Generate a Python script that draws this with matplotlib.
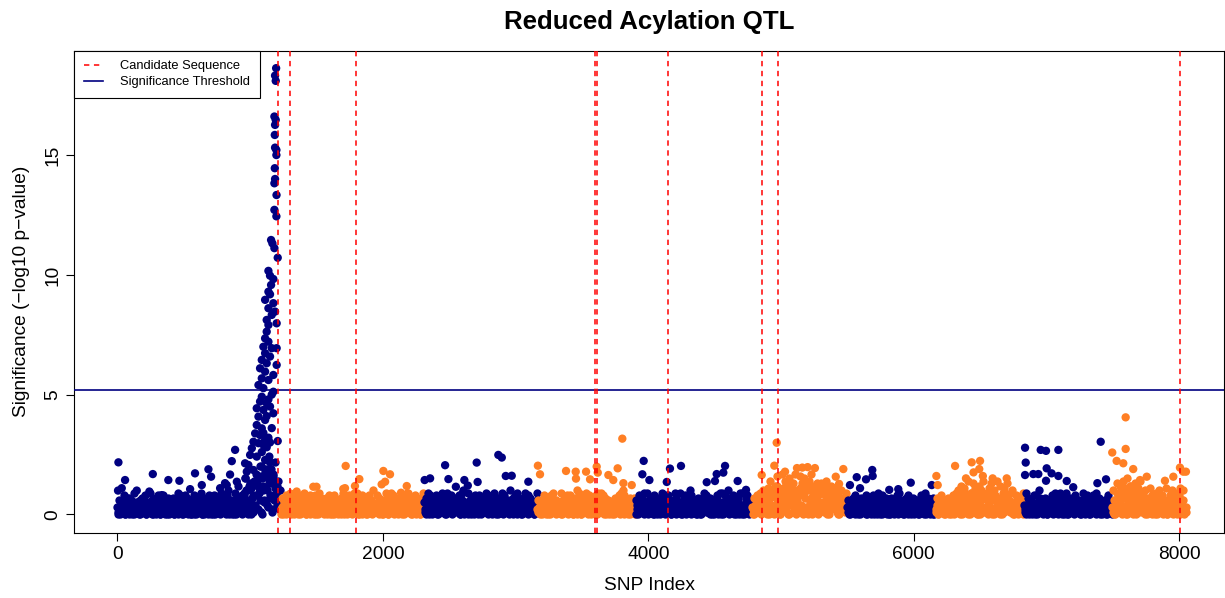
# Reduced acylation QTL - manhattan style plot of SNP significance
# cloud strings: one char per every 8th SNP, base-36 digit = -log10 p in tenths
# cloud_b holds the SNPs in between (offset by 4)

import numpy as np
import matplotlib
matplotlib.use("Agg")
import matplotlib.pyplot as plt
from matplotlib.lines import Line2D

plt.rcParams['font.family'] = ['Liberation Sans', 'DejaVu Sans']

# chromosome start index (SNP index), last SNP ~8050
chrom_start = [0, 1230, 2310, 3164, 3905, 4783, 5499, 6165, 6830, 7495]
snp_step = 8

cloud = [
    # chr 1
    "3061528047" "1736029415" "0627318054" "2916047283" "0538162074"
    "4170625938" "1604827350" "6283051749" "0471638205" "5802714693"
    "3718a04625" "0947c15839" "f2a06db48e" "3hc9k1fa6i" "b4ne8j2gm7" "c5a2",
    # chr 2
    "2705183649" "0471628305" "6193047582" "1580369274" "3027148605"
    "8416052739" "0653827149" "5290741836" "7038165a24" "1847306259"
    "6025918473" "3748052619" "9160473825" "40719",
    # chr 3
    "5172908364" "2830615947" "0694281735" "7318059a42" "1956037482"
    "4082736195" "8361049257" "0729584316" "3a15078294" "6047391582" "7315029",
    # chr 4
    "2615038274" "0738491562" "5190627483" "3842075a19" "6074319258"
    "1526084937" "9381706245" "0467253819" "4a85102736" "170",
    # chr 5
    "6208371594" "3947160825" "0715392648" "8260415973" "1593078246"
    "4a81625037" "2037948165" "7164052839" "0952816a47" "5386027194" "9204781536",
    # chr 6
    "3071852964" "a2816b0e49" "1c7g3a05h8" "2e6b0f49d1" "h5a28g3c0f"
    "7b1e4h09c6" "3d8a2c5b1e" "07a4c93b26" "1804a72596",
    # chr 7
    "3605172846" "0417263580" "2751806439" "6038147250" "1742053869"
    "5260471835" "0375162048" "4619027351" "270",
    # chr 8
    "2705183640" "6172048359" "3a81c05b72" "e4096d1b38" "0c5a2e7194"
    "b3d06a82e1" "5c09b47d26" "19a4058372" "619",
    # chr 9
    "4192706538" "0825a71364" "7306248159" "2581940637" "9047136285"
    "1362059748" "6015283794" "3740516208" "514",
    # chr 10
    "3a06d19c42" "e7b0f58c2a" "0d6b39e148" "5a1072b846" "0937a15824"
    "6b0382a719" "4058b26a31",
]

cloud_b = [
    "1302415023" "0214303521" "4031250142" "2503140326" "0142035104"
    "3250142031" "0413520240" "1305243150" "2041305314" "0352140263"
    "1504231042" "3061527048" "2a5c3071d4" "8e2b6g0c5j" "a3f7d1h6b9" "4e2a",
    "0314205132" "4102530413" "1350241053" "2041305142" "5130420315"
    "0243150423" "1502341025" "3140520134" "0425130243" "1503240152"
    "4021350314" "0352140235" "1240531042" "30512",
    "2041536024" "1305241536" "0423150624" "3150462031" "5024136052"
    "1430526143" "0251436025" "4162035142" "0537241063" "2504136025" "1430526",
    "1304251403" "5021436015" "2403152604" "1350426031" "4052136024"
    "0315240613" "2504136052" "1403526041" "3052146023" "514",
    "0413526041" "3052146035" "1402536024" "5130426051" "2403516043"
    "1502436025" "4031526140" "2053146023" "1504236051" "3402516043" "0215340625",
    "2043152604" "1350827193" "0a4c2806b3" "5d1907c4a2" "8062b4d19e"
    "3a0c5728b1" "6094d2a38c" "1507394a26" "041625314",
    "1402536041" "3052146025" "1403526041" "2503146023" "0415236051"
    "3204516032" "1503426014" "2305146032" "041",
    "1403526041" "3502146025" "1705382946" "0829371605" "4092718360"
    "2918073546" "0728193645" "1503426013" "250",
    "2041536024" "1305246031" "4052136024" "1503426053" "0241536014"
    "3205146032" "1403526041" "2053146023" "140",
    "1604938270" "8a3059c172" "4906b28371" "0524136042" "1503426035"
    "2041536024" "3150426013",
]

# points standing above the cloud
hit_idx = [
    8, 58, 267, 384, 467, 585, 686, 706, 887, 862, 962, 849, 900, 1145, 1150, 1208,
    5, 33, 146, 241, 334, 548, 636, 774, 824, 811, 975, 966, 987, 1000, 1013, 1025,
    1038, 1050, 1063, 1075, 1088, 1100, 1113, 1088, 1138, 1175, 1025,
    1138, 1163, 1125, 1150, 1163, 1138, 1100, 1088, 1125, 1150, 1113,
    1050, 1063, 1050, 1075, 1088, 1100, 1113, 1125, 1175, 1063, 1100, 1175, 1088,
    1138, 1075, 1113, 1175, 1088, 1125, 1200, 1113, 1150, 1100, 1163, 1200, 1113,
    1138, 1125, 1125, 1200, 1138, 1163, 1188, 1138, 1113, 1175, 1138, 1150, 1158,
    1175, 1150, 1138, 1208, 1183, 1168, 1158, 1198, 1183, 1199, 1183, 1188, 1186,
    1198, 1198, 1188, 1186, 1188, 1193, 1183, 1193, 1188, 1196,
    1720, 2004, 2054, 2017, 1823, 2180, 1702, 2137, 1476, 1500, 1790, 1991, 1351, 1715,
    2469, 2707, 2870, 2896, 2494, 2614, 2356, 2714, 2971, 2926, 3096, 2315, 2640, 2550,
    3168, 3184, 3804, 3380, 3453, 3531, 3611, 3619, 3769, 3699, 3736, 3812, 3561, 3455, 3875,
    3965, 3955, 4008, 4163, 4246, 4139, 4578, 4565, 4515, 4502, 4673, 4736, 4440,
    4967, 4949, 4854, 5030, 5120, 5160, 5200, 5255, 5469, 5412, 5437, 5316,
    5687, 5690, 5570, 5640, 5519, 5595, 5977, 6135, 5815, 5883, 6072,
    6170, 6180, 6311, 6436, 6499, 6493, 6594, 6700, 6393, 6450, 6520,
    6838, 6956, 6996, 7089, 7408, 6843, 6838, 7001, 6900, 6938, 7038, 7089, 6996,
    7152, 7201, 7448, 7383,
    7596, 7596, 7495, 7528, 7578, 7653, 8050, 8005, 8030, 7892, 7955, 7755, 7704,
]
hit_val = [
    2.17, 1.43, 1.68, 1.43, 1.40, 1.71, 1.88, 1.57, 2.69, 2.22, 2.13, 1.66, 1.36, 2.41, 2.16, 3.06,
    0.99, 1.09, 0.99, 0.95, 0.80, 1.05, 1.22, 1.09, 1.22, 1.30, 1.78, 1.50, 2.06, 2.48, 2.76, 3.03,
    3.38, 2.41, 2.97, 3.31, 3.59, 2.90, 2.27, 1.99, 1.64, 1.36, 1.85,
    3.20, 3.60, 4.10, 4.50, 5.00, 4.80, 3.40, 2.60, 2.80, 3.00, 3.10,
    3.73, 4.08, 4.43, 4.71, 4.91, 4.36, 3.94, 4.64, 4.22, 5.40, 5.27, 5.12, 5.68,
    5.61, 6.10, 5.96, 5.82, 6.45, 6.31, 6.24, 6.73, 6.59, 7.00, 6.94, 6.94, 7.35,
    7.21, 7.63, 8.12, 7.98, 7.91, 8.33, 8.47, 8.61, 8.96, 8.82, 9.30, 9.19, 9.58,
    9.83, 9.97, 10.17, 10.72, 11.12, 11.32, 11.46, 12.45, 12.72, 13.34, 13.83, 14.01, 14.46,
    15.01, 15.22, 15.32, 15.85, 16.27, 16.48, 16.62, 18.11, 18.33, 18.64,
    2.02, 1.81, 1.67, 1.36, 1.47, 1.18, 1.06, 0.90, 1.15, 1.15, 1.18, 1.25, 0.95, 1.09,
    2.05, 2.16, 2.48, 2.37, 1.47, 1.43, 1.50, 1.35, 1.61, 1.60, 1.36, 1.43, 1.20, 1.15,
    2.03, 1.67, 3.16, 1.81, 1.78, 1.78, 1.99, 1.74, 1.92, 1.64, 1.43, 1.30, 1.46, 1.49, 1.22,
    2.23, 1.67, 1.43, 1.91, 2.02, 1.35, 2.02, 1.74, 1.68, 1.39, 1.39, 1.02, 1.34,
    2.99, 2.03, 1.64, 1.78, 1.93, 1.95, 1.97, 1.93, 1.89, 1.57, 1.27, 1.10,
    1.85, 1.60, 1.55, 1.46, 1.22, 1.09, 1.32, 1.22, 1.02, 1.05, 0.74,
    1.60, 1.22, 2.02, 2.17, 2.23, 1.89, 1.50, 1.50, 1.50, 1.75, 1.60,
    2.78, 2.69, 2.65, 2.69, 3.03, 2.16, 1.64, 1.92, 1.68, 1.68, 1.71, 1.60, 1.40,
    1.39, 1.13, 1.46, 1.30,
    4.05, 2.73, 2.58, 2.23, 2.13, 1.89, 1.78, 1.95, 1.78, 1.40, 1.57, 1.57, 1.43,
]

candidate_idx = [1208, 1303, 1798, 3596, 3616, 4151, 4854, 4977, 8005]
threshold = 5.2

chrom_colors = ["#000080", "#FF7F24"]

fig = plt.figure(figsize=(12.25, 5.98), dpi=100)
ax = fig.add_axes([0.0607, 0.1092, 0.9385, 0.806])

# draw chromosome by chromosome so later ones sit on top, as in the original
for k in range(len(chrom_start)):
    va = np.array([int(ch, 36) for ch in cloud[k]]) / 10
    vb = np.array([int(ch, 36) for ch in cloud_b[k]]) / 10
    xa = chrom_start[k] + snp_step * np.arange(len(va))
    xb = chrom_start[k] + snp_step // 2 + snp_step * np.arange(len(vb))
    xs = np.concatenate([xa, xb])
    ys = np.concatenate([va, vb])
    order = np.argsort(xs, kind="stable")
    ax.scatter(xs[order], ys[order], color=chrom_colors[k % 2], s=36,
               linewidths=0, zorder=2)

hit_idx = np.array(hit_idx)
hit_chr = np.searchsorted(chrom_start, hit_idx, side="right") - 1
ax.scatter(hit_idx, hit_val, c=[chrom_colors[k % 2] for k in hit_chr], s=36,
           linewidths=0, zorder=2)

ax.axhline(threshold, color="#000080", lw=1.2, zorder=3)
for v in candidate_idx:
    ax.axvline(v, color="red", lw=1.1, ls=(0, (3.5, 3)), zorder=4)

ax.set_xlim(-324, 8337)
ax.set_ylim(-0.77, 19.37)
ax.set_xticks([0, 2000, 4000, 6000, 8000])
ax.set_yticks([0, 5, 10, 15])
ax.tick_params(length=5.5, width=0.8, labelsize=13.8, pad=4)
for t in ax.get_yticklabels():
    t.set_rotation(90)
    t.set_va("center")
for sp in ax.spines.values():
    sp.set_linewidth(0.8)

ax.set_title("Reduced Acylation QTL", fontsize=18.6, fontweight="bold", pad=15.4)
ax.set_xlabel("SNP Index", fontsize=13.8, labelpad=10)
ax.set_ylabel("Significance (\u2212log10 p\u2212value)", fontsize=13.8, labelpad=10)

handles = [Line2D([], [], color="red", lw=1.1, ls=(0, (3.5, 3))),
           Line2D([], [], color="#000080", lw=1.2)]
leg = ax.legend(handles, ["Candidate Sequence", "Significance Threshold"],
                loc="upper left", bbox_to_anchor=(0, 1), borderaxespad=0,
                fontsize=9.3, fancybox=False, framealpha=1, edgecolor="black",
                handlelength=1.5, handletextpad=1.3, borderpad=0.75,
                labelspacing=0.3)
leg.get_frame().set_linewidth(0.8)
leg.set_zorder(5)

fig.savefig("out.png", dpi=100)
